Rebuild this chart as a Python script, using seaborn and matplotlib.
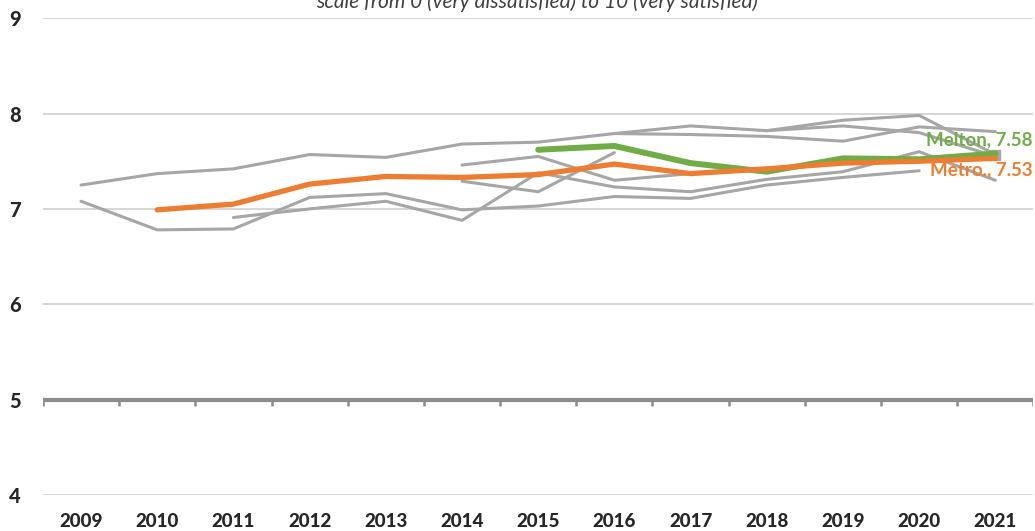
import numpy as np
import pandas as pd
import matplotlib
matplotlib.use("Agg")
import matplotlib.pyplot as plt
import seaborn as sns

years = [2009, 2010, 2011, 2012, 2013, 2014, 2015, 2016, 2017, 2018, 2019, 2020, 2021]
nan = np.nan

# Comparison councils (grey)
grey_a = [7.25, 7.37, 7.42, 7.57, 7.54, 7.68, 7.70, 7.79, 7.87, 7.82, 7.93, 7.98, 7.57]
grey_b = [7.08, 6.78, 6.79, 7.12, 7.16, 6.99, 7.03, 7.13, 7.11, 7.25, 7.33, 7.40, nan]
grey_c = [nan, nan, 6.91, 7.00, 7.08, 6.88, 7.38, 7.23, 7.18, 7.31, 7.39, 7.60, 7.30]
grey_d = [nan, nan, nan, nan, nan, 7.46, 7.55, 7.30, 7.37, nan, nan, nan, nan]
grey_e = [nan, nan, nan, nan, nan, 7.29, 7.18, 7.59, nan, nan, nan, nan, nan]
grey_f = [nan, nan, nan, nan, nan, nan, nan, 7.79, 7.78, 7.76, 7.71, 7.86, 7.81]
grey_g = [nan, nan, nan, nan, nan, nan, nan, nan, nan, 7.82, 7.87, 7.80, 7.55]

melton = [nan, nan, nan, nan, nan, nan, 7.62, 7.66, 7.48, 7.39, 7.53, 7.52, 7.58]
metro = [nan, 6.99, 7.05, 7.26, 7.34, 7.33, 7.36, 7.47, 7.37, 7.42, 7.48, 7.50, 7.53]

melton_label = "Melton, 7.58"
metro_label = "Metro., 7.53"
title = "scale from 0 (very dissatisfied) to 10 (very satisfied)"
y_ticks = [4, 5, 6, 7, 8, 9]

GREY = "#A6A6A6"
GREEN = "#70AD47"
ORANGE = "#ED7D31"

sns.set_style("white")
plt.rcParams["font.family"] = ["Lato", "DejaVu Sans"]

fig = plt.figure(figsize=(10.35, 5.31), dpi=100)
ax = fig.add_axes([0.0415, 0.0678, 0.957, 0.898])

greys = [grey_a, grey_b, grey_c, grey_d, grey_e, grey_f, grey_g]
for g in greys:
    df = pd.DataFrame({"year": years, "value": g}).dropna()
    sns.lineplot(data=df, x="year", y="value", ax=ax, color=GREY, lw=2.2,
                 zorder=3)

# grey square marker at end of line A
ax.plot([years[-1]], [grey_a[-1]], marker="s", color=GREY, ms=6.5, zorder=3)

df_m = pd.DataFrame({"year": years, "value": melton}).dropna()
sns.lineplot(data=df_m, x="year", y="value", ax=ax, color=GREEN, lw=4.3, zorder=4)
df_o = pd.DataFrame({"year": years, "value": metro}).dropna()
sns.lineplot(data=df_o, x="year", y="value", ax=ax, color=ORANGE, lw=3.8, zorder=5)

ax.annotate(melton_label, xy=(years[-1], melton[-1]), xytext=(37, 14),
            textcoords="offset pixels", ha="right", va="center",
            color=GREEN, fontsize=13.5, fontweight="bold", zorder=6)
ax.annotate(metro_label, xy=(years[-1], metro[-1]), xytext=(37, -11),
            textcoords="offset pixels", ha="right", va="center",
            color=ORANGE, fontsize=13.5, fontweight="bold", zorder=6)

ax.set_xlim(years[0] - 0.5, years[-1] + 0.5)
ax.set_ylim(4, 9)
ax.set_yticks(y_ticks)
ax.set_yticklabels([str(t) for t in y_ticks], fontsize=14.5, fontweight="black")
ax.set_xticks(years)
ax.set_xticklabels([str(y) for y in years], fontsize=13.5, fontweight="black")
ax.tick_params(axis="y", length=0, pad=16)
ax.tick_params(axis="x", length=0, pad=13)
ax.set_xlabel("")
ax.set_ylabel("")
for s in ax.spines.values():
    s.set_visible(False)

for t in y_ticks:
    if t != 5:
        ax.axhline(t, color="#D0D0D0", lw=1.2, zorder=1)

# category axis crossing at 5
ax.axhline(5, color="#8C8C8C", lw=3.0, zorder=2)
bounds = np.arange(years[0] - 0.5, years[-1] + 1.0, 1.0)
ax.vlines(bounds, 4.93, 5, color="#8C8C8C", lw=1.8, zorder=2)

fig.text(0.519, 0.984, title, ha="center", va="baseline", fontsize=15,
         style="italic", color="#404040")

fig.savefig("out.png", dpi=100)
